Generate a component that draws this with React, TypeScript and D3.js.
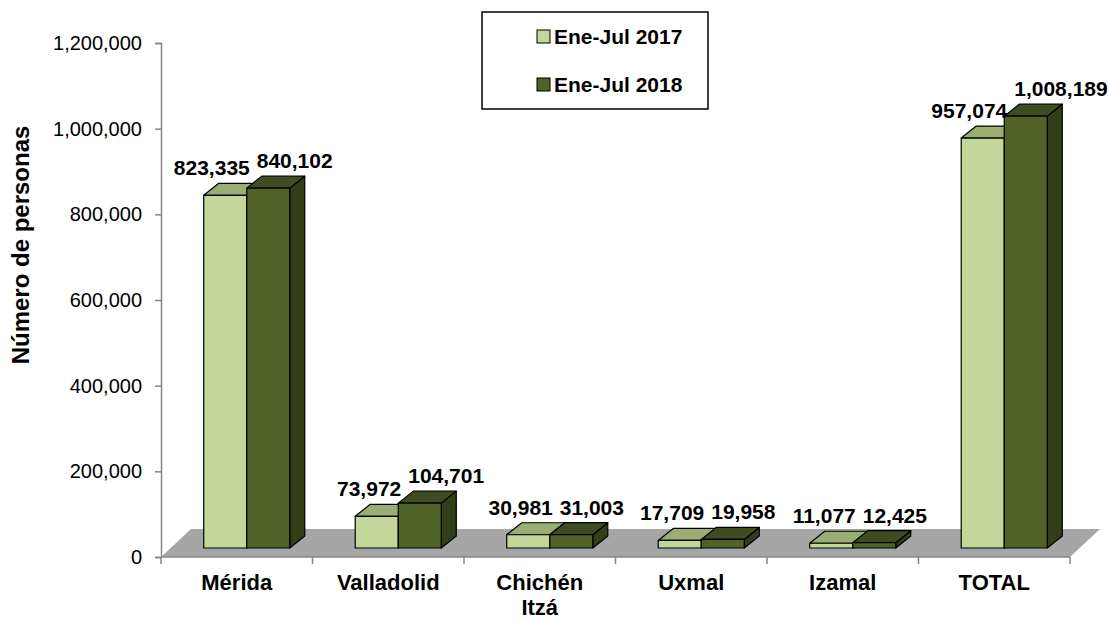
import React, { useEffect, useRef } from 'react';
import * as d3 from 'd3';

const categories = ['Mérida', 'Valladolid', 'Chichén Itzá', 'Uxmal', 'Izamal', 'TOTAL'];
const seriesNames = ['Ene-Jul 2017', 'Ene-Jul 2018'];
const values2017 = [823335, 73972, 30981, 17709, 11077, 957074];
const values2018 = [840102, 104701, 31003, 19958, 12425, 1008189];
const yTicks = [0, 200000, 400000, 600000, 800000, 1000000, 1200000];

const colors = [
  { front: '#c4d79b', top: '#9aad72', side: '#7f9159' },
  { front: '#4f6228', top: '#3d4d1f', side: '#313e18' },
];

const FONT = '"Liberation Sans", Arial, sans-serif';

const App = () => {
  const ref = useRef<SVGSVGElement | null>(null);

  useEffect(() => {
    if (!ref.current) return;
    const svg = d3.select(ref.current);
    svg.selectAll('*').remove();

    const width = 1109, height = 620;
    const left = 161, right = 1070, top = 43, bottom = 557;

    // 3d look: floor depth, bar offset into the floor, bar depth
    const floorDx = 30, floorDy = -28;
    const offX = 10, offY = -9;
    const depX = 15, depY = -12;

    const x = d3.scaleBand<string>().domain(categories).range([left, right]).paddingInner(0).paddingOuter(0);
    const y = d3.scaleLinear().domain([0, 1200000]).range([bottom, top]);
    const fmt = d3.format(',');
    const barW = x.bandwidth() * 0.284;

    svg.attr('width', width).attr('height', height);

    // floor
    const y0 = y(0);
    svg.append('polygon')
      .attr('points', [
        [left, y0], [left + floorDx, y0 + floorDy],
        [right + floorDx, y0 + floorDy], [right, y0],
      ].map(p => p.join(',')).join(' '))
      .attr('fill', '#a6a6a6');

    // y axis
    const yAxis = svg.append('g')
      .attr('transform', `translate(${left},0)`)
      .call(d3.axisLeft(y).tickValues(yTicks).tickFormat(d => fmt(d as number)).tickSize(6).tickPadding(13));
    yAxis.select('.domain').attr('stroke', '#868686').attr('stroke-width', 1.5);
    yAxis.selectAll('.tick line').attr('stroke', '#868686').attr('stroke-width', 1.5);
    yAxis.selectAll('.tick text')
      .attr('font-family', FONT).attr('font-size', 20).attr('fill', '#000');

    // x axis line and boundary ticks
    const xa = svg.append('g');
    xa.append('line')
      .attr('x1', left).attr('x2', right).attr('y1', y0).attr('y2', y0)
      .attr('stroke', '#868686').attr('stroke-width', 1.5);
    const bounds = categories.map(c => x(c) as number).concat([right]);
    xa.selectAll('line.tk').data(bounds).enter().append('line')
      .attr('class', 'tk')
      .attr('x1', d => d).attr('x2', d => d)
      .attr('y1', y0).attr('y2', y0 + 7)
      .attr('stroke', '#868686').attr('stroke-width', 1.5);

    // category labels
    const catG = svg.append('g');
    categories.forEach(c => {
      const cx = (x(c) as number) + x.bandwidth() / 2;
      const parts = c === 'Chichén Itzá' ? ['Chichén', 'Itzá'] : [c];
      parts.forEach((p, i) => {
        catG.append('text')
          .attr('x', cx)
          .attr('y', 590 + i * 25)
          .attr('text-anchor', 'middle')
          .attr('font-family', FONT).attr('font-size', 22).attr('font-weight', 'bold')
          .text(p);
      });
    });

    // bars
    const barsG = svg.append('g');
    const labelG = svg.append('g');
    const series = [values2017, values2018];
    categories.forEach((c, ci) => {
      const cx = (x(c) as number) + x.bandwidth() / 2 + offX;
      series.forEach((vals, si) => {
        const v = vals[ci];
        const x0 = si === 0 ? cx - barW : cx;
        const x1 = x0 + barW;
        const yb = y(0) + offY;
        const yt = y(v) + offY;
        const col = colors[si];
        const g = barsG.append('g').attr('stroke', '#000').attr('stroke-width', 1.2).attr('stroke-linejoin', 'round');
        g.append('polygon')
          .attr('points', [[x1, yb], [x1 + depX, yb + depY], [x1 + depX, yt + depY], [x1, yt]].map(p => p.join(',')).join(' '))
          .attr('fill', col.side);
        g.append('polygon')
          .attr('points', [[x0, yt], [x0 + depX, yt + depY], [x1 + depX, yt + depY], [x1, yt]].map(p => p.join(',')).join(' '))
          .attr('fill', col.top);
        g.append('rect')
          .attr('x', x0).attr('y', yt).attr('width', barW).attr('height', yb - yt)
          .attr('fill', col.front);

        labelG.append('text')
          .attr('x', si === 0 ? x1 + 3 : x0 + 10)
          .attr('y', yt + depY - 8)
          .attr('text-anchor', si === 0 ? 'end' : 'start')
          .attr('font-family', FONT).attr('font-size', 21).attr('font-weight', 'bold')
          .text(fmt(v));
      });
    });

    // axis title
    svg.append('text')
      .attr('transform', 'translate(29,245) rotate(-90)')
      .attr('text-anchor', 'middle')
      .attr('font-family', FONT).attr('font-size', 24).attr('font-weight', 'bold')
      .text('Número de personas');

    // legend
    const lg = svg.append('g');
    lg.append('rect')
      .attr('x', 482).attr('y', 12).attr('width', 226).attr('height', 97)
      .attr('fill', '#fff').attr('stroke', '#000').attr('stroke-width', 1.5);
    seriesNames.forEach((n, i) => {
      const cy = 37 + i * 48;
      lg.append('rect')
        .attr('x', 537).attr('y', cy - 7).attr('width', 13).attr('height', 13)
        .attr('fill', colors[i].front).attr('stroke', '#000').attr('stroke-width', 1);
      lg.append('text')
        .attr('x', 554).attr('y', cy + 7)
        .attr('font-family', FONT).attr('font-size', 21).attr('font-weight', 'bold')
        .text(n);
    });
  }, []);

  return (
    <svg ref={ref} style={{ position: 'absolute', left: 0, top: 0 }} />
  );
};

export default App;
